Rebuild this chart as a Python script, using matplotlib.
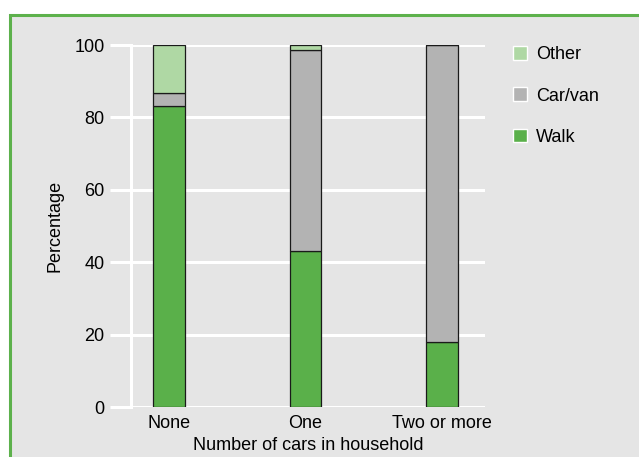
import matplotlib
matplotlib.use("Agg")
import matplotlib.pyplot as plt
from matplotlib.patches import Patch, Rectangle

plt.rcParams['font.family'] = ['Liberation Sans', 'DejaVu Sans']

categories = ['None', 'One', 'Two or more']
walk = [83.2, 43.2, 18.0]
car_van = [3.6, 55.4, 82.0]
other = [13.2, 1.4, 0.0]

c_walk = '#5ab04a'
c_car = '#b3b3b3'
c_other = '#afd8a4'
panel_bg = '#e5e5e5'

W, H = 639, 457
fig = plt.figure(figsize=(W / 100, H / 100), dpi=100)
fig.patch.set_facecolor('white')

# grey panel with green outline (runs off the right and bottom edges)
fig.patches.append(Rectangle((9.5 / W, -0.05), 1.1, (H - 15) / H + 0.05,
                             transform=fig.transFigure, facecolor=panel_bg,
                             edgecolor='#5db14c', linewidth=2.2, zorder=-10))

ax = fig.add_axes([131 / W, 1 - 407 / H, (485 - 131) / W, (407 - 45) / H])
ax.set_facecolor(panel_bg)

x = range(len(categories))
bw = 0.234
kw = dict(width=bw, edgecolor='#1a1a1a', linewidth=0.9, zorder=3)
ax.bar(x, walk, color=c_walk, **kw)
ax.bar(x, car_van, bottom=walk, color=c_car, **kw)
bottom2 = [a + b for a, b in zip(walk, car_van)]
ax.bar(x, other, bottom=bottom2, color=c_other, **kw)

ax.set_xlim(-0.278, 2.315)
ax.set_ylim(0, 100)
ax.set_yticks([0, 20, 40, 60, 80, 100])
ax.set_xticks(list(x))
ax.set_xticklabels(categories, fontsize=13)
ax.tick_params(axis='y', length=15, width=2.2, color='white', direction='out',
               labelsize=13, pad=4)
ax.tick_params(axis='x', length=0, pad=6)
for t in ax.get_yticks():
    ax.axhline(t, color='white', linewidth=2.2, zorder=1)

for s in ['top', 'right', 'bottom']:
    ax.spines[s].set_visible(False)
ax.spines['left'].set_color('white')
ax.spines['left'].set_linewidth(2.2)

ax.set_xlabel('Number of cars in household', fontsize=13, labelpad=3.5)
ax.set_ylabel('Percentage', fontsize=13, labelpad=8)

handles = [Patch(facecolor=c_other, edgecolor='white', linewidth=1),
           Patch(facecolor=c_car, edgecolor='white', linewidth=1),
           Patch(facecolor=c_walk, edgecolor='white', linewidth=1)]
fig.legend(handles, ['Other', 'Car/van', 'Walk'], loc='upper left',
           bbox_to_anchor=(504 / W, 1 - 37 / H), frameon=False, fontsize=13,
           handlelength=0.78, handleheight=0.78, handletextpad=0.5,
           labelspacing=1.35, borderpad=0)

fig.savefig('out.png', dpi=100, facecolor=fig.get_facecolor())
